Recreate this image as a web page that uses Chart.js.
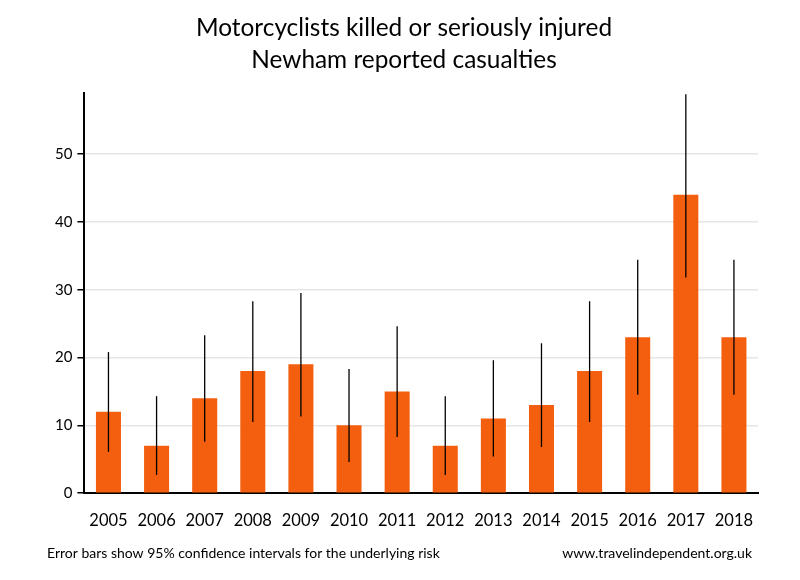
<!DOCTYPE html>
<html lang="en">

<head>
    <meta charset="UTF-8">
    <title>Motorcyclists KSI - Newham</title>
    <script src="https://cdn.jsdelivr.net/npm/chart.js"></script>
    <style>
        body { margin: 0; background: #fff; }
        #wrap { width: 800px; height: 580px; }
    </style>
</head>

<body>
    <div id="wrap"><canvas id="ksiChart"></canvas></div>

    <script>
        const years = ['2005', '2006', '2007', '2008', '2009', '2010', '2011', '2012', '2013', '2014', '2015', '2016', '2017', '2018'];
        const casualties = [12, 7, 14, 18, 19, 10, 15, 7, 11, 13, 18, 23, 44, 23];
        const ciLower = [6.1, 2.7, 7.6, 10.5, 11.3, 4.6, 8.3, 2.7, 5.4, 6.8, 10.5, 14.5, 31.8, 14.5];
        const ciUpper = [20.8, 14.3, 23.3, 28.3, 29.5, 18.3, 24.6, 14.3, 19.6, 22.1, 28.3, 34.4, 58.8, 34.4];
        const yTicks = [0, 10, 20, 30, 40, 50];

        const FONT = 'Lato, "Open Sans", sans-serif';

        // vertical error bars, no caps
        const errorBars = {
            id: 'errorBars',
            afterDatasetsDraw(chart) {
                const ctx = chart.ctx;
                const y = chart.scales.y;
                const meta = chart.getDatasetMeta(0);
                ctx.save();
                ctx.strokeStyle = '#000';
                ctx.lineWidth = 1.3;
                meta.data.forEach((bar, i) => {
                    ctx.beginPath();
                    ctx.moveTo(bar.x, y.getPixelForValue(ciLower[i]));
                    ctx.lineTo(bar.x, y.getPixelForValue(ciUpper[i]));
                    ctx.stroke();
                });
                ctx.restore();
            }
        };

        const footnotes = {
            id: 'footnotes',
            afterDraw(chart) {
                const ctx = chart.ctx;
                ctx.save();
                ctx.fillStyle = '#000';
                ctx.font = '14px ' + FONT;
                ctx.textBaseline = 'middle';
                ctx.textAlign = 'left';
                ctx.fillText('Error bars show 95% confidence intervals for the underlying risk', 47, 553);
                ctx.textAlign = 'right';
                ctx.fillText('www.travelindependent.org.uk', 752, 553);
                ctx.restore();
            }
        };

        new Chart(document.getElementById('ksiChart'), {
            type: 'bar',
            data: {
                labels: years,
                datasets: [{
                    data: casualties,
                    backgroundColor: '#f35f0e',
                    barPercentage: 0.52,
                    categoryPercentage: 1.0
                }]
            },
            options: {
                responsive: true,
                maintainAspectRatio: false,
                animation: false,
                layout: { padding: { left: 50, right: 42, top: 0, bottom: 31 } },
                plugins: {
                    legend: { display: false },
                    tooltip: { enabled: false },
                    title: {
                        display: true,
                        text: ['Motorcyclists killed or seriously injured', 'Newham reported casualties'],
                        color: '#000',
                        font: { family: FONT, size: 24.4, weight: 'normal', lineHeight: 1.31 },
                        padding: { top: 12, bottom: 17 }
                    }
                },
                scales: {
                    x: {
                        grid: { display: false, drawTicks: false },
                        border: { color: '#000', width: 2 },
                        ticks: { color: '#000', padding: 18, font: { family: FONT, size: 16.5 } }
                    },
                    y: {
                        min: 0,
                        max: 59,
                        afterBuildTicks(axis) {
                            axis.ticks = yTicks.map(v => ({ value: v }));
                        },
                        grid: {
                            color: ctx => ctx.tick && ctx.tick.value === 0 ? 'rgba(0,0,0,0)' : '#e6e6e6',
                            lineWidth: 1.5,
                            tickColor: '#000',
                            tickLength: 7
                        },
                        border: { color: '#000', width: 2 },
                        ticks: { color: '#000', padding: 5, font: { family: FONT, size: 15 } }
                    }
                }
            },
            plugins: [errorBars, footnotes]
        });
    </script>
</body>

</html>
